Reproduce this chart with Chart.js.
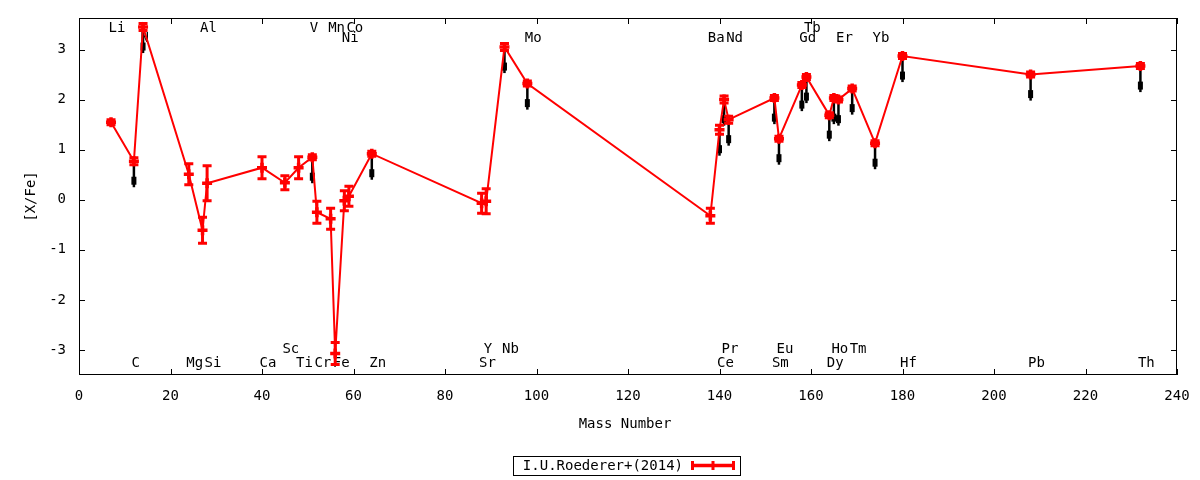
<!DOCTYPE html>
<html>
<head>
<meta charset="utf-8">
<script src="https://cdn.jsdelivr.net/npm/chart.js@4.4.1/dist/chart.umd.min.js"></script>
<style>
  html, body { margin: 0; padding: 0; background: #fff; }
</style>
</head>
<body>
<canvas id="myChart" width="1200" height="480"></canvas>
<script>
// data
let elements = ["Li", "C", "N", "Mg", "Al", "Si", "Ca", "Sc", "Ti", "V", "Cr", "Mn", "Fe", "Ni", "Co", "Zn",
  "Sr", "Y", "Nb", "Mo", "Ba", "Ce", "Pr", "Nd", "Sm", "Eu", "Gd", "Tb", "Dy", "Ho", "Er", "Tm", "Yb", "Hf", "Pb", "Th"];
let massNumber = [7, 12, 14, 24, 27, 28, 40, 45, 48, 51, 52, 55, 56, 58, 59, 64,
  88, 89, 93, 98, 138, 140, 141, 142, 152, 153, 158, 159, 164, 165, 166, 169, 174, 180, 208, 232];
let xFe = [1.55, 0.77, 3.45, 0.51, -0.61, 0.33, 0.64, 0.34, 0.64, 0.85, -0.25, -0.38, -3.07, -0.02, 0.07, 0.92,
  -0.07, -0.03, 3.05, 2.32, -0.32, 1.40, 2.00, 1.60, 2.03, 1.22, 2.29, 2.45, 1.69, 2.03, 2.00, 2.22, 1.13, 2.87, 2.50, 2.67];
let xFeErr = [0.05, 0.07, 0.07, 0.21, 0.26, 0.35, 0.22, 0.14, 0.22, 0.05, 0.22, 0.21, 0.22, 0.20, 0.20, 0.05,
  0.20, 0.25, 0.07, 0.05, 0.15, 0.09, 0.07, 0.07, 0.05, 0.05, 0.05, 0.05, 0.05, 0.05, 0.05, 0.05, 0.05, 0.05, 0.05, 0.05];
// 1 = upper limit (black arrow below the point)
let upperLimit = [0, 1, 1, 0, 0, 0, 0, 0, 0, 1, 0, 0, 0, 0, 0, 1,
  0, 0, 1, 1, 0, 1, 1, 1, 1, 1, 1, 1, 1, 1, 1, 1, 1, 1, 1, 1];
// label rows: 0 top-high, 1 top-low, 2 bottom-high, 3 bottom-low
let labelRow = [0, 3, 1, 3, 0, 3, 3, 2, 3, 0, 3, 0, 3, 1, 0, 3,
  3, 2, 2, 1, 1, 3, 2, 1, 3, 2, 1, 0, 3, 2, 1, 2, 1, 3, 3, 3];
let xTicks = [0, 20, 40, 60, 80, 100, 120, 140, 160, 180, 200, 220, 240];
let yTicks = [-3, -2, -1, 0, 1, 2, 3];
let seriesName = "I.U.Roederer+(2014)";

const FONT = "'DejaVu Sans Mono', monospace";
const RED = "#ff0000";

let points = massNumber.map((m, i) => ({ x: m, y: xFe[i] }));

// labels, error bars, arrows, frame, titles and key drawn the gnuplot way
const gnuplotBits = {
  id: "gnuplotBits",
  beforeDatasetsDraw(chart) {
    let { ctx, chartArea: a, scales: { x, y } } = chart;
    ctx.save();

    // element names
    ctx.font = "14px " + FONT;
    ctx.fillStyle = "#000";
    ctx.textAlign = "left";
    ctx.textBaseline = "middle";
    let rowY = [a.top + 10, a.top + 20, a.bottom - 25.5, a.bottom - 11.5];
    elements.forEach((el, i) => {
      ctx.fillText(el, x.getPixelForValue(massNumber[i]) - 2.5, rowY[labelRow[i]]);
    });

    // upper limit arrows
    ctx.strokeStyle = "#000";
    ctx.fillStyle = "#000";
    ctx.lineWidth = 2.5;
    massNumber.forEach((m, i) => {
      if (!upperLimit[i]) return;
      let px = x.getPixelForValue(m);
      ctx.beginPath();
      ctx.moveTo(px, y.getPixelForValue(xFe[i]));
      ctx.lineTo(px, y.getPixelForValue(xFe[i] - 0.52));
      ctx.stroke();
      let hy = y.getPixelForValue(xFe[i] - 0.39);
      ctx.fillRect(px - 2.5, hy - 4, 5, 8);
    });

    // error bars
    ctx.strokeStyle = RED;
    ctx.lineWidth = 3;
    massNumber.forEach((m, i) => {
      let px = x.getPixelForValue(m);
      let top = y.getPixelForValue(xFe[i] + xFeErr[i]);
      let bot = y.getPixelForValue(xFe[i] - xFeErr[i]);
      ctx.beginPath();
      ctx.moveTo(px, top);
      ctx.lineTo(px, bot);
      ctx.moveTo(px - 4.5, top);
      ctx.lineTo(px + 4.5, top);
      ctx.moveTo(px - 4.5, bot);
      ctx.lineTo(px + 4.5, bot);
      ctx.stroke();
    });
    ctx.restore();
  },
  afterDraw(chart) {
    let { ctx, chartArea: a, scales: { x, y } } = chart;
    ctx.save();
    ctx.strokeStyle = "#000";
    ctx.lineWidth = 1;

    // border
    ctx.strokeRect(Math.round(a.left) + 0.5, Math.round(a.top) + 0.5,
      Math.round(a.right - a.left) - 1, Math.round(a.bottom - a.top) - 1);

    // inward ticks, mirrored
    ctx.beginPath();
    xTicks.forEach((v) => {
      let px = Math.round(x.getPixelForValue(v)) + 0.5;
      ctx.moveTo(px, a.bottom);
      ctx.lineTo(px, a.bottom - 6);
      ctx.moveTo(px, a.top);
      ctx.lineTo(px, a.top + 6);
    });
    yTicks.forEach((v) => {
      let py = Math.round(y.getPixelForValue(v)) + 0.5;
      ctx.moveTo(a.left, py);
      ctx.lineTo(a.left + 6, py);
      ctx.moveTo(a.right, py);
      ctx.lineTo(a.right - 6, py);
    });
    ctx.stroke();

    // axis titles
    ctx.fillStyle = "#000";
    ctx.font = "14px " + FONT;
    ctx.textAlign = "center";
    ctx.textBaseline = "middle";
    ctx.fillText("Mass Number", (a.left + a.right) / 2 - 3, 424);
    ctx.save();
    ctx.translate(31.5, (a.top + a.bottom) / 2);
    ctx.rotate(-Math.PI / 2);
    ctx.fillText("[X/Fe]", 0, 0);
    ctx.restore();

    // key
    ctx.strokeRect(513.5, 456.5, 227, 19);
    ctx.textAlign = "right";
    ctx.fillText(seriesName, 683, 466);
    ctx.strokeStyle = RED;
    ctx.lineWidth = 3.5;
    ctx.beginPath();
    ctx.moveTo(691, 465.5);
    ctx.lineTo(735, 465.5);
    ctx.stroke();
    ctx.lineWidth = 3;
    ctx.beginPath();
    [692.5, 713, 733.5].forEach((px) => {
      ctx.moveTo(px, 461);
      ctx.lineTo(px, 470);
    });
    ctx.stroke();
    ctx.restore();
  },
};

const ctx = document.getElementById("myChart").getContext("2d");
const myChart = new Chart(ctx, {
  type: "line",
  data: {
    datasets: [
      {
        label: seriesName,
        data: points,
        borderColor: RED,
        backgroundColor: RED,
        borderWidth: 2,
        tension: 0,
        pointStyle: "cross",
        pointRadius: 5,
        pointBorderWidth: 3.5,
        pointBorderColor: RED,
        pointHoverRadius: 5,
      },
    ],
  },
  options: {
    responsive: false,
    animation: false,
    events: [],
    layout: { padding: { top: 18, right: 23, left: 0, bottom: 0 } },
    plugins: { legend: { display: false }, tooltip: { enabled: false } },
    scales: {
      x: {
        type: "linear",
        min: 0,
        max: 240,
        afterBuildTicks: (s) => { s.ticks = xTicks.map((v) => ({ value: v })); },
        afterFit: (s) => {
          s.height = 105;
          s.paddingLeft = 0;
          s.paddingRight = 0;
        },
        grid: { display: false, drawTicks: false },
        border: { display: false },
        ticks: { padding: 13, color: "#000", maxRotation: 0, autoSkip: false, font: { family: FONT, size: 14 } },
      },
      y: {
        type: "linear",
        min: -3.5,
        max: 3.63,
        afterBuildTicks: (s) => { s.ticks = yTicks.map((v) => ({ value: v })); },
        afterFit: (s) => {
          s.width = 79;
          s.paddingTop = 0;
          s.paddingBottom = 0;
        },
        grid: { display: false, drawTicks: false },
        border: { display: false },
        ticks: { padding: 13, color: "#000", font: { family: FONT, size: 14 } },
      },
    },
  },
  plugins: [gnuplotBits],
});
</script>
</body>
</html>
